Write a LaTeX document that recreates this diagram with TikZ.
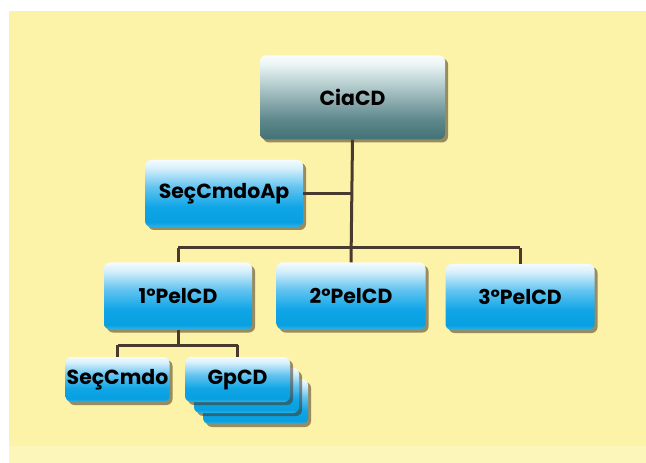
\documentclass[tikz,border=0pt]{standalone}
\usepackage{fontspec}
\setmainfont{Poppins}[BoldFont={Poppins Bold}]
\usetikzlibrary{shadows}

\definecolor{bgyellow}{RGB}{253,243,168}
\definecolor{bglight}{RGB}{253,246,186}
\definecolor{linebrown}{RGB}{72,58,46}
\definecolor{shadowbrown}{RGB}{70,55,35}

% blue boxes: pale at the top, saturated cyan towards the bottom
% (the path covers the band from 25bp to 75bp of the shading)
\pgfdeclareverticalshading{bluebox}{100bp}{%
  color(0bp)=(rgb,255:red,48;green,178;blue,232);
  color(25bp)=(rgb,255:red,48;green,178;blue,232);
  color(28.5bp)=(rgb,255:red,8;green,160;blue,224);
  color(40bp)=(rgb,255:red,15;green,165;blue,230);
  color(55bp)=(rgb,255:red,100;green,196;blue,240);
  color(69bp)=(rgb,255:red,215;green,240;blue,252);
  color(75bp)=(rgb,255:red,244;green,251;blue,254);
  color(100bp)=(rgb,255:red,244;green,251;blue,254)}

% top box: white fading to a grey teal
\pgfdeclareverticalshading{tealbox}{100bp}{%
  color(0bp)=(rgb,255:red,66;green,114;blue,118);
  color(25bp)=(rgb,255:red,66;green,114;blue,118);
  color(37bp)=(rgb,255:red,95;green,136;blue,140);
  color(55bp)=(rgb,255:red,170;green,196;blue,198);
  color(70bp)=(rgb,255:red,236;green,245;blue,245);
  color(75bp)=(rgb,255:red,248;green,252;blue,252);
  color(100bp)=(rgb,255:red,248;green,252;blue,252)}

\tikzset{
  unitbox/.style={rounded corners=6bp, shading=bluebox, inner sep=0pt,
    font=\bfseries\fontsize{20.5}{23}\selectfont, text=black,
    drop shadow={shadow xshift=3bp, shadow yshift=-3bp,
      fill=shadowbrown, opacity=.55}},
  topbox/.style={unitbox, shading=tealbox},
  link/.style={draw=linebrown, line width=3bp}
}

\begin{document}
\begin{tikzpicture}[x=1bp,y=-1bp]
  % page and coloured panel
  \fill[white] (0,0) rectangle (646,463);
  \fill[bgyellow] (9,11) rectangle (646,463);
  \fill[bglight] (9,446) rectangle (646,463);
  \useasboundingbox (0,0) rectangle (646,463);

  % command level
  \node[topbox, minimum width=185bp, minimum height=84bp] (cia) at (352.5,97.5) {CiaCD};
  \node[unitbox, minimum width=158bp, minimum height=67bp] (apoio) at (224,193.5) {SeçCmdoAp};

  % platoons
  \node[unitbox, minimum width=148bp, minimum height=67bp] (p1) at (178,296) {1ºPelCD};
  \node[unitbox, minimum width=149bp, minimum height=67bp] (p2) at (351,296) {2ºPelCD};
  \node[unitbox, minimum width=149bp, minimum height=66bp] (p3) at (520,297) {3ºPelCD};

  % sections of the first platoon
  \node[unitbox, minimum width=104bp, minimum height=45bp] (secc) at (117.5,379.5) {SeçCmdo};
  \node[unitbox, minimum width=105bp, minimum height=45bp] (gp3) at (255.5,401.5) {};
  \node[unitbox, minimum width=105bp, minimum height=45bp] (gp2) at (246.5,390.5) {};
  \node[unitbox, minimum width=105bp, minimum height=45bp] (gp) at (237.5,379.5) {GpCD};

  % bus lines
  \coordinate (busL) at (178,248);
  \coordinate (busR) at (520,248);
  \coordinate (lowL) at (117.5,345);
  \coordinate (lowR) at (237.5,345);

  \draw[link] (cia.south) -- (p2.north);
  \draw[link] (apoio.east) -- (apoio.east -| cia.south);
  \draw[link] (busL) -- (busR);
  \draw[link] (busL) -- (p1.north);
  \draw[link] (busR) -- (p3.north);
  \draw[link] (p1.south) -- (p1.south |- lowL);
  \draw[link] (lowL) -- (lowR);
  \draw[link] (lowL) -- (secc.north);
  \draw[link] (lowR) -- (gp.north);
\end{tikzpicture}
\end{document}
